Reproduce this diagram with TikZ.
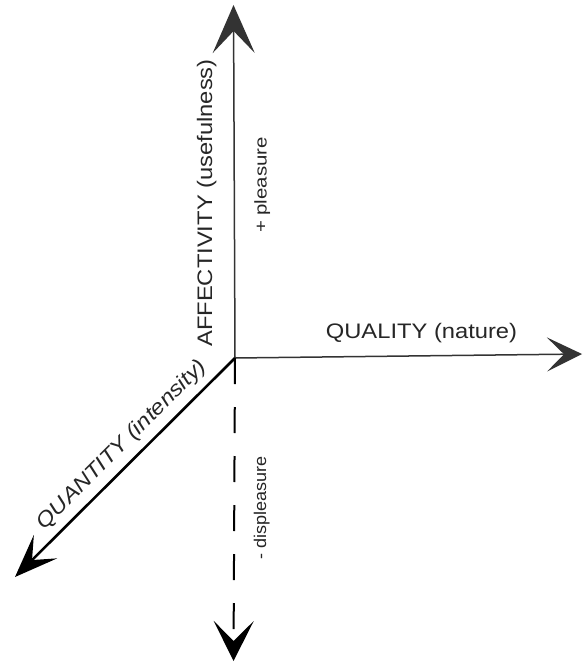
\documentclass[tikz,border=0pt]{standalone}
\usepackage{fontspec}
\setmainfont{Liberation Sans}
\newfontfamily\axisfont[FakeStretch=1.13]{Liberation Sans}
\newfontfamily\plusfont[FakeStretch=1.2]{Liberation Sans}
\newfontfamily\minusfont[FakeStretch=1.06]{Liberation Sans}
\usetikzlibrary{arrows.meta}
\begin{document}
\begin{tikzpicture}[x=1pt,y=-1pt,
  axistext/.style={inner sep=0pt, text=black!85, font=\axisfont\fontsize{21}{25}\selectfont},
  plustext/.style={inner sep=0pt, text=black!85, font=\plusfont\fontsize{17}{20}\selectfont},
  minustext/.style={inner sep=0pt, text=black!85, font=\minusfont\fontsize{17}{20}\selectfont},
  axisline/.style={line width=1.5pt, black!80},
  uptip/.style={-{Stealth[length=48pt,width=42pt,inset=22pt]}},
  righttip/.style={-{Stealth[length=35pt,width=34pt,inset=17pt]}},
  lowtip/.style={-{Stealth[length=43pt,width=33pt,inset=19pt]}},
  downtip/.style={-{Stealth[length=40pt,width=40pt,inset=20pt]}},
]
\useasboundingbox (0,0) rectangle (582,668);
\fill[white] (0,0) rectangle (582,668);

% origin and the free ends of the four axes
\coordinate (o) at (235,358);
\coordinate (up) at (233.5,5);
\coordinate (right) at (582,354);
\coordinate (down) at (233.5,661);
\coordinate (low) at (15,577);

% axes
\draw[axisline, uptip] (o) -- (up);
\draw[axisline, righttip] (o) -- (right);
\draw[line width=2.6pt, black, lowtip] (o) -- (low);
\draw[line width=2pt, black, dash pattern=on 26pt off 23pt, downtip] (o) -- (down);

% labels
\node[axistext, anchor=base] (qual) at (421.5,338) {QUALITY (nature)};
\node[axistext, anchor=base, rotate=90] (aff) at (212,203) {AFFECTIVITY (usefulness)};
\node[axistext, anchor=base, rotate=45] (quant) at (126,449) {\itshape QUANTITY (intensity)};
\node[plustext, anchor=base, rotate=90] (plus) at (266.5,185) {+ pleasure};
\node[minustext, anchor=base, rotate=90] (minus) at (266,508) {- displeasure};
\end{tikzpicture}
\end{document}
